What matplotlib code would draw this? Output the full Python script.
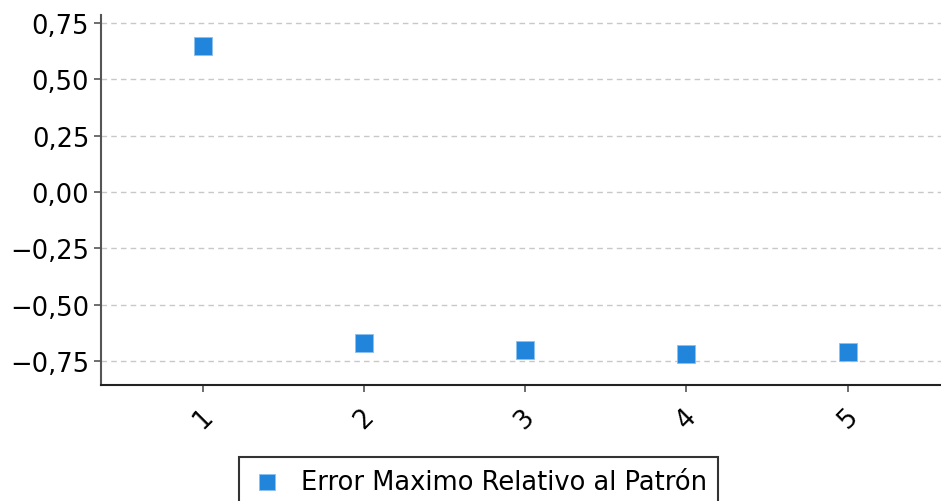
import matplotlib
matplotlib.use("Agg")
import matplotlib.pyplot as plt
from matplotlib.ticker import FuncFormatter

# data
x_labels = ["1", "2", "3", "4", "5"]
x_vals   = [1, 2, 3, 4, 5]
error    = [0.648, -0.670, -0.701, -0.719, -0.710]
y_ticks  = [-0.75, -0.50, -0.25, 0.00, 0.25, 0.50, 0.75]

plt.rcParams["font.family"] = ["DejaVu Sans"]

fig = plt.figure(figsize=(9.41, 5.02), dpi=100)
ax = fig.add_axes([101 / 941, 1 - 386 / 502, 840 / 941, 370 / 502])

ax.scatter(x_vals, error, marker="s", s=180, color="#2185db", edgecolors="#8cc0ee",
           linewidths=0.6, zorder=3, label="Error Maximo Relativo al Patrón")

ax.set_xlim(0.366, 5.58)
ax.set_ylim(-0.857, 0.786)
ax.set_xticks(x_vals)
ax.set_xticklabels(x_labels, rotation=45)
ax.set_yticks(y_ticks)
ax.yaxis.set_major_formatter(FuncFormatter(lambda v, p: f"{v:.2f}".replace(".", ",").replace("-", "\u2212")))

ax.grid(axis="y", linestyle=(0, (4, 3)), color="#c8c8c8", linewidth=1)
ax.set_axisbelow(True)
for s in ["top", "right"]:
    ax.spines[s].set_visible(False)
ax.spines["left"].set_color("#555555")
ax.spines["left"].set_linewidth(1.5)
ax.spines["bottom"].set_color("#222222")
ax.spines["bottom"].set_linewidth(1.5)
ax.tick_params(axis="both", labelsize=18.5, length=5, width=1.2, color="#555555")
ax.tick_params(axis="x", pad=8)

leg = ax.legend(loc="upper left", bbox_to_anchor=(239 / 941, 1 - 458 / 502),
                bbox_transform=fig.transFigure, fontsize=18.5, frameon=True,
                fancybox=False, edgecolor="black", handletextpad=0.65,
                borderpad=0.45, borderaxespad=0, handlelength=1.3, markerscale=0.9)
leg.get_frame().set_linewidth(1.5)

fig.savefig("out.png", dpi=100)
